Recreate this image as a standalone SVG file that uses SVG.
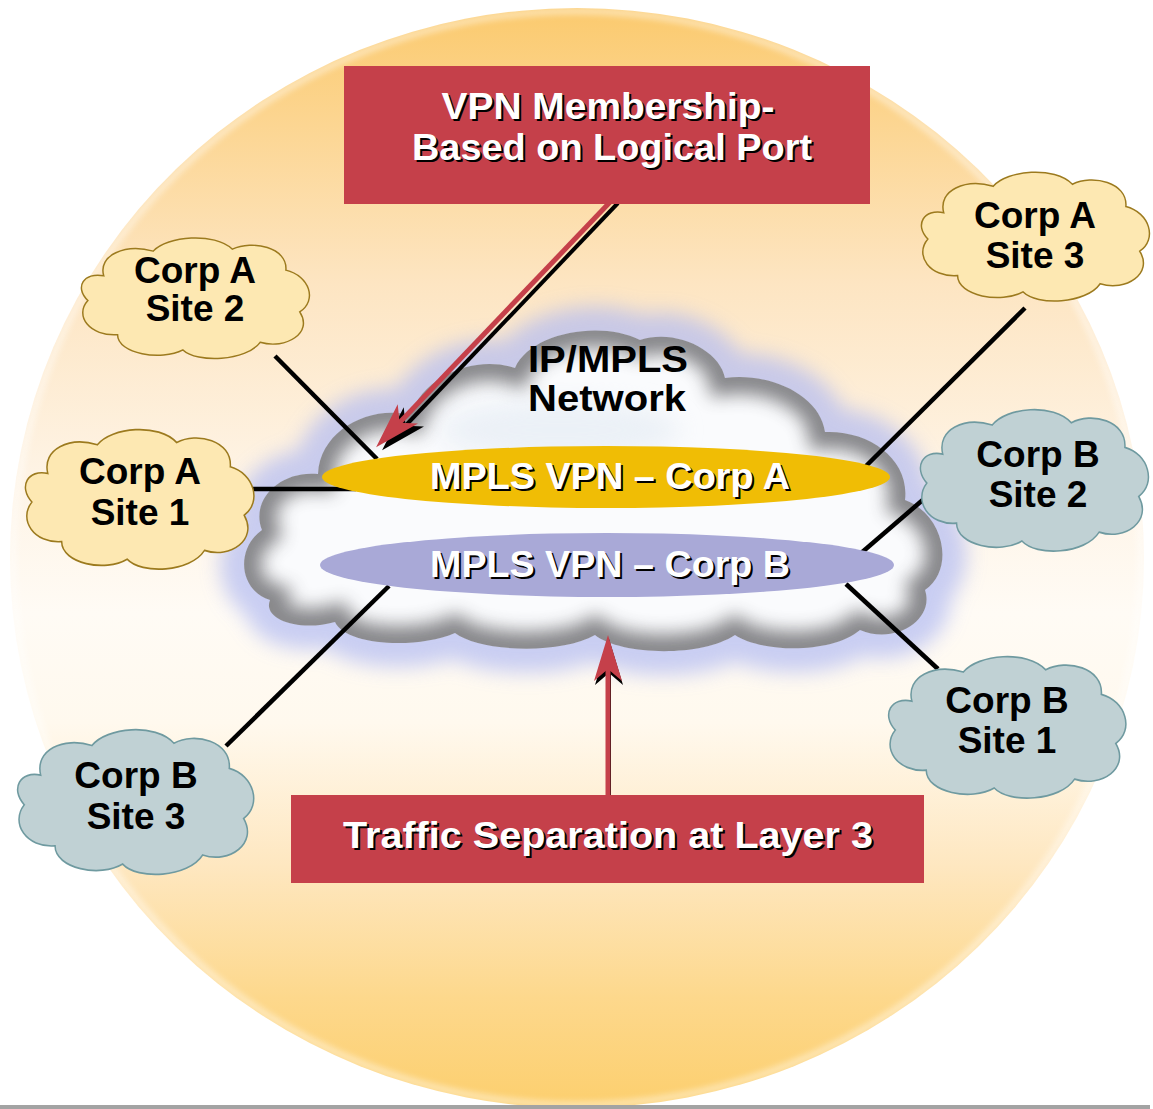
<svg xmlns="http://www.w3.org/2000/svg" xmlns:xlink="http://www.w3.org/1999/xlink" width="1153" height="1109" viewBox="0 0 1153 1109">
  <style>
    .site-a { fill: #fde8b2; stroke: #9c7a1e; stroke-width: 1.5; }
    .site-b { fill: #c0d1d4; stroke: #6f9aa0; stroke-width: 1.5; }
    .lbl { font-family: "Liberation Sans", Arial, sans-serif; font-weight: bold; font-size: 37px; fill: #000; text-anchor: middle; }
    .hl { font-family: "Liberation Sans", Arial, sans-serif; font-weight: bold; font-size: 36px; text-anchor: middle; }
    .hl-shadow { fill: #000; }
    .hl-face { fill: #fff; }
    .wire { stroke: #000; stroke-width: 4.5; fill: none; }
    .callout { stroke: #c5404a; stroke-width: 5; fill: none; }
    .callout-shadow { stroke: #000; stroke-width: 4; fill: none; }
    .box { fill: #c5404a; }
  </style>
  <defs>
    <linearGradient id="sun" x1="0" y1="0" x2="0" y2="1">
      <stop offset="0" stop-color="#fbca6e"/>
      <stop offset="0.1" stop-color="#fcd590"/>
      <stop offset="0.25" stop-color="#fde5c2"/>
      <stop offset="0.42" stop-color="#fef3e4"/>
      <stop offset="0.55" stop-color="#fffbf5"/>
      <stop offset="0.65" stop-color="#fff9ee"/>
      <stop offset="0.78" stop-color="#fee7c0"/>
      <stop offset="0.9" stop-color="#fdd88c"/>
      <stop offset="1" stop-color="#fccf6e"/>
    </linearGradient>
    <filter id="soft8" x="-20%" y="-30%" width="140%" height="160%">
      <feGaussianBlur stdDeviation="10"/>
    </filter>
    <filter id="soft10" x="-20%" y="-30%" width="140%" height="160%">
      <feGaussianBlur stdDeviation="9"/>
    </filter>
    <filter id="soft12" x="-20%" y="-30%" width="140%" height="160%">
      <feGaussianBlur stdDeviation="12"/>
    </filter>
    <filter id="soft3">
      <feGaussianBlur stdDeviation="3"/>
    </filter>
    <!-- network cloud outline -->
    <path id="net" d="M 270,600 C 238,590 236,548 262,530 C 250,500 280,470 318,474 C 320,430 370,405 410,415 C 425,375 475,355 515,368 C 530,333 600,320 640,340 C 675,328 720,350 725,378 C 770,372 820,395 825,432 C 870,430 910,460 905,500 C 945,515 955,570 925,590 C 935,620 895,645 860,630 C 830,655 760,652 735,635 C 700,658 620,655 595,635 C 560,655 480,652 455,633 C 415,650 345,645 335,622 C 300,632 262,620 270,600 Z"/>
    <clipPath id="netClip"><use xlink:href="#net"/></clipPath>
    <!-- site cloud outline, 240 x 130 box -->
    <path id="site" d="M 28,44 C 22,22 50,10 78,18 C 92,2 140,-2 158,16 C 178,6 214,14 212,38 C 236,44 244,70 226,82 C 240,104 212,122 186,114 C 172,134 122,136 108,122 C 86,134 42,126 42,106 C 14,108 -2,86 12,70 C -2,56 8,40 28,44 Z"/>
    <marker id="head" markerUnits="userSpaceOnUse" markerWidth="60" markerHeight="40" refX="0" refY="0" orient="auto" overflow="visible">
      <path d="M 10,0 L -36,-14 L -24,0 L -36,14 Z" fill="#c5404a"/>
    </marker>
    <marker id="head-shadow" markerUnits="userSpaceOnUse" markerWidth="60" markerHeight="40" refX="0" refY="0" orient="auto" overflow="visible">
      <path d="M 10,0 L -36,-14 L -24,0 L -36,14 Z" fill="#000"/>
    </marker>
  </defs>

  <rect x="0" y="0" width="1153" height="1109" fill="#fff"/>

  <!-- backdrop disc -->
  <g id="backdrop">
    <ellipse cx="577" cy="558" rx="567" ry="550" fill="url(#sun)"/>
    <ellipse cx="577" cy="558" rx="564" ry="547" fill="none" stroke="#fff" stroke-width="6" opacity="0.5" filter="url(#soft3)"/>
  </g>
  <rect x="0" y="1105" width="1150" height="4" fill="#a3a3a3"/>

  <!-- IP/MPLS core cloud -->
  <g id="core">
    <use xlink:href="#net" fill="none" stroke="#b2bbf2" stroke-width="48" opacity="0.7" filter="url(#soft8)"/>
    <g clip-path="url(#netClip)">
      <use xlink:href="#net" fill="#fafbfd"/>
      <ellipse cx="560" cy="430" rx="120" ry="30" fill="#e2eaf3" opacity="0.6" filter="url(#soft12)"/>
      <use xlink:href="#net" fill="none" stroke="#7a7a7e" stroke-width="34" opacity="0.9" filter="url(#soft10)"/>
    </g>
    <text class="lbl" x="608" y="372" font-size="36" textLength="160" lengthAdjust="spacingAndGlyphs">IP/MPLS</text>
    <text class="lbl" x="607" y="411" font-size="36" textLength="158" lengthAdjust="spacingAndGlyphs">Network</text>
  </g>

  <!-- links and callout arrows -->
  <g id="connectors">
    <line class="wire" x1="275" y1="356" x2="377" y2="459"/>
    <line class="wire" x1="250" y1="489" x2="356" y2="489"/>
    <line class="wire" x1="1025" y1="308" x2="866" y2="466"/>
    <line class="wire" x1="925" y1="498" x2="860" y2="554"/>
    <line class="wire" x1="938" y1="669" x2="846" y2="584"/>
    <line class="wire" x1="226" y1="746" x2="389" y2="586"/>
    <line class="callout-shadow" x1="618" y1="203" x2="389" y2="443" marker-end="url(#head-shadow)"/>
    <line class="callout" x1="612" y1="200" x2="383" y2="440" marker-end="url(#head)"/>
    <line class="callout-shadow" x1="609" y1="800" x2="609" y2="649" marker-end="url(#head-shadow)"/>
    <line class="callout" x1="608" y1="800" x2="608" y2="645" marker-end="url(#head)"/>
  </g>

  <!-- VPN rings -->
  <g id="vpn-a">
    <ellipse cx="606" cy="477" rx="284" ry="31" fill="#f0bd05"/>
    <text class="hl hl-shadow" x="612" y="491" font-size="35" textLength="360" lengthAdjust="spacingAndGlyphs">MPLS VPN – Corp A</text>
    <text class="hl hl-face" x="610" y="489" font-size="35" textLength="360" lengthAdjust="spacingAndGlyphs">MPLS VPN – Corp A</text>
  </g>
  <g id="vpn-b">
    <ellipse cx="607" cy="565" rx="287" ry="32" fill="#a9a9d7"/>
    <text class="hl hl-shadow" x="612" y="579" font-size="35" textLength="360" lengthAdjust="spacingAndGlyphs">MPLS VPN – Corp B</text>
    <text class="hl hl-face" x="610" y="577" font-size="35" textLength="360" lengthAdjust="spacingAndGlyphs">MPLS VPN – Corp B</text>
  </g>

  <!-- customer sites -->
  <g id="corp-a-site-2">
    <use xlink:href="#site" class="site-a" transform="translate(76,234) scale(0.99,0.95)"/>
    <text class="lbl" x="195" y="283">Corp A</text>
    <text class="lbl" x="195" y="321">Site 2</text>
  </g>
  <g id="corp-a-site-1">
    <use xlink:href="#site" class="site-a" transform="translate(20,425) scale(0.992,1.1)"/>
    <text class="lbl" x="140" y="484">Corp A</text>
    <text class="lbl" x="140" y="525">Site 1</text>
  </g>
  <g id="corp-a-site-3">
    <use xlink:href="#site" class="site-a" transform="translate(916,168) scale(0.99,1.015)"/>
    <text class="lbl" x="1035" y="228">Corp A</text>
    <text class="lbl" x="1035" y="268">Site 3</text>
  </g>
  <g id="corp-b-site-2">
    <use xlink:href="#site" class="site-b" transform="translate(915,405) scale(0.99,1.115)"/>
    <text class="lbl" x="1038" y="467">Corp B</text>
    <text class="lbl" x="1038" y="507">Site 2</text>
  </g>
  <g id="corp-b-site-1">
    <use xlink:href="#site" class="site-b" transform="translate(883,652) scale(1.03,1.115)"/>
    <text class="lbl" x="1007" y="713">Corp B</text>
    <text class="lbl" x="1007" y="753">Site 1</text>
  </g>
  <g id="corp-b-site-3">
    <use xlink:href="#site" class="site-b" transform="translate(12,725) scale(1.025,1.14)"/>
    <text class="lbl" x="136" y="788">Corp B</text>
    <text class="lbl" x="136" y="829">Site 3</text>
  </g>

  <!-- callout labels -->
  <g id="membership-label">
    <rect class="box" x="344" y="66" width="526" height="138"/>
    <text class="hl hl-shadow" x="610" y="121" textLength="333" lengthAdjust="spacingAndGlyphs">VPN Membership-</text>
    <text class="hl hl-face" x="608" y="119" textLength="333" lengthAdjust="spacingAndGlyphs">VPN Membership-</text>
    <text class="hl hl-shadow" x="614" y="162" textLength="400" lengthAdjust="spacingAndGlyphs">Based on Logical Port</text>
    <text class="hl hl-face" x="612" y="160" textLength="400" lengthAdjust="spacingAndGlyphs">Based on Logical Port</text>
  </g>
  <g id="separation-label">
    <rect class="box" x="291" y="795" width="633" height="88"/>
    <text class="hl hl-shadow" x="610" y="850" textLength="530" lengthAdjust="spacingAndGlyphs">Traffic Separation at Layer 3</text>
    <text class="hl hl-face" x="608" y="848" textLength="530" lengthAdjust="spacingAndGlyphs">Traffic Separation at Layer 3</text>
  </g>
</svg>
